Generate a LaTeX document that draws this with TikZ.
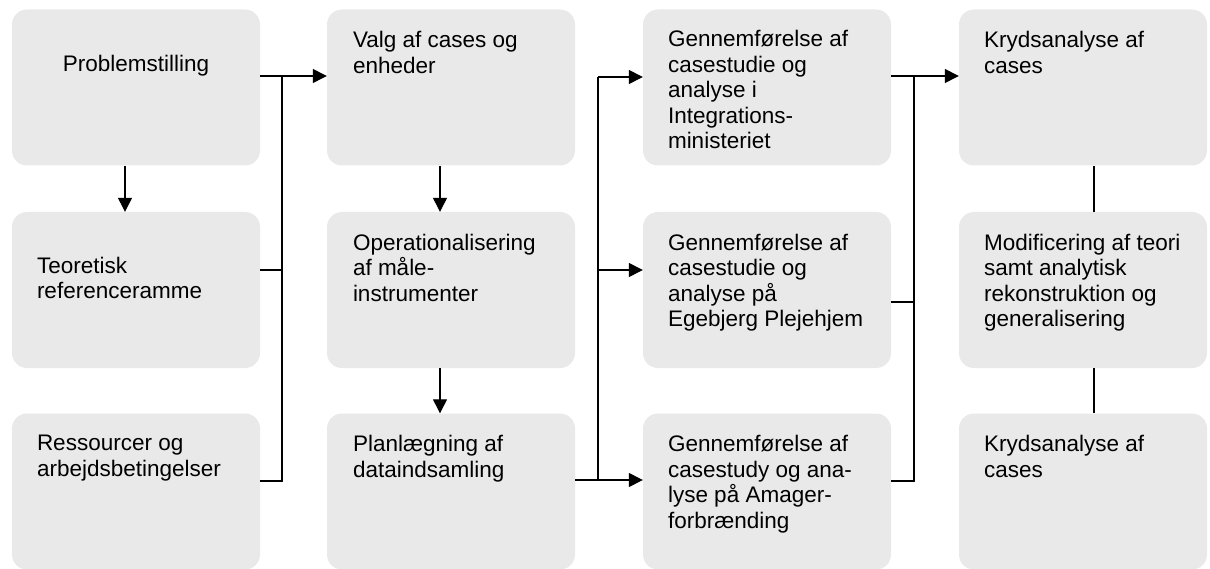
\documentclass[tikz,border=0pt]{standalone}
\usepackage{fontspec}
\setmainfont{Liberation Sans}
\usetikzlibrary{arrows.meta,positioning}
\definecolor{boxgray}{RGB}{233,233,233}

\begin{document}
\begin{tikzpicture}[x=1pt, y=-1pt,
    box/.style={rectangle, rounded corners=15pt, fill=boxgray, minimum width=248pt, minimum height=156pt, inner sep=0pt},
    txt/.style={inner sep=0pt, align=left, font=\fontsize{22.5}{25.5}\selectfont},
    link/.style={line width=1.3pt},
    arr/.style={line width=1.3pt, -{Triangle[length=14pt,width=14pt]}}]
    \useasboundingbox (0,0) rectangle (1210,569);

    % boxes, column by column
    \node (p1) [box] at (136,87.5) {};
    \node (t1) [box] at (136,290) {};
    \node (r1) [box] at (136,491.5) {};
    \node (v1) [box] at (451,87.5) {};
    \node (o1) [box] at (451,290) {};
    \node (pl1) [box] at (451,491.5) {};
    \node (g1) [box] at (767,87.5) {};
    \node (g2) [box] at (767,290) {};
    \node (g3) [box] at (767,491.5) {};
    \node (k1) [box] at (1083,87.5) {};
    \node (m4) [box] at (1083,290) {};
    \node (k2) [box] at (1083,491.5) {};

    % texts
    \node (p1txt) [txt, below=46pt of p1.north] {Problemstilling};
    \node (t1txt) [txt, below right=45pt and 25pt of t1.north west] {Teoretisk\\referenceramme};
    \node (r1txt) [txt, below right=22pt and 25pt of r1.north west] {Ressourcer og\\arbejdsbetingelser};
    \node (v1txt) [txt, below right=22pt and 26pt of v1.north west] {Valg af cases og\\enheder};
    \node (o1txt) [txt, below right=22pt and 26pt of o1.north west] {Operationalisering\\af måle-\\instrumenter};
    \node (pl1txt) [txt, below right=22pt and 26pt of pl1.north west] {Planlægning af\\dataindsamling};
    \node (g1txt) [txt, below right=21pt and 25pt of g1.north west] {Gennemførelse af\\casestudie og\\analyse i\\Integrations-\\ministeriet};
    \node (g2txt) [txt, below right=22pt and 25pt of g2.north west] {Gennemførelse af\\casestudie og\\analyse på\\Egebjerg Plejehjem};
    \node (g3txt) [txt, below right=22pt and 25pt of g3.north west] {Gennemførelse af\\casestudy og ana-\\lyse på Amager-\\forbrænding};
    \node (k1txt) [txt, below right=22pt and 25pt of k1.north west] {Krydsanalyse af\\cases};
    \node (m4txt) [txt, below right=22pt and 25pt of m4.north west] {Modificering af teori\\samt analytisk\\rekonstruktion og\\generalisering};
    \node (k2txt) [txt, below right=22pt and 25pt of k2.north west] {Krydsanalyse af\\cases};

    % junctions of the brackets
    \coordinate (a1) at (282,76);
    \coordinate (a2) at (282,270);
    \coordinate (a3) at (282,481);
    \coordinate (b1) at (598,77);
    \coordinate (b2) at (598,270);
    \coordinate (b3) at (598,480);
    \coordinate (c1) at (914,76);
    \coordinate (c2) at (914,302);
    \coordinate (c3) at (914,481);

    % column 1
    \draw [arr] ([xshift=-11pt]p1.south) -- ([xshift=-11pt]t1.north);
    \draw [arr] (p1.east |- a1) -- (a1 -| v1.west);
    \draw [link] (t1.east |- a2) -- (a2);
    \draw [link] (r1.east |- a3) -- (a3) -- (a1);

    % column 2
    \draw [arr] ([xshift=-11pt]v1.south) -- ([xshift=-11pt]o1.north);
    \draw [arr] ([xshift=-11pt]o1.south) -- ([xshift=-11pt]pl1.north);
    \draw [arr] (pl1.east |- b3) -- (b3 -| g3.west);
    \draw [link] (b3) -- (b1);
    \draw [arr] (b1) -- (b1 -| g1.west);
    \draw [arr] (b2) -- (b2 -| g2.west);

    % column 3
    \draw [arr] (g1.east |- c1) -- (c1 -| k1.west);
    \draw [link] (g2.east |- c2) -- (c2);
    \draw [link] (g3.east |- c3) -- (c3) -- (c1);

    % column 4
    \draw [link] ([xshift=11pt]k1.south) -- ([xshift=11pt]m4.north);
    \draw [link] ([xshift=11pt]m4.south) -- ([xshift=11pt]k2.north);

\end{tikzpicture}
\end{document}
